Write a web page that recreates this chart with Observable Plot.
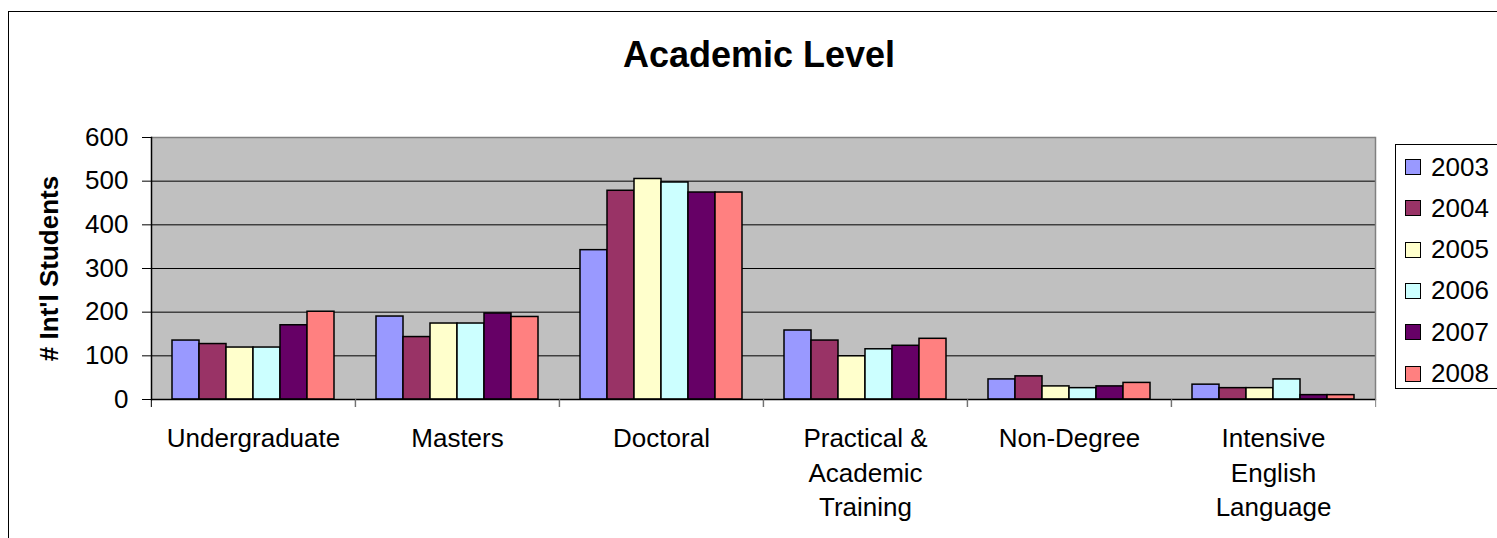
<!DOCTYPE html>
<html>
<head>
<meta charset="utf-8">
<script src="https://cdn.jsdelivr.net/npm/d3@7"></script>
<script src="https://cdn.jsdelivr.net/npm/@observablehq/plot@0.6"></script>
<style>
  body { margin: 0; background: #fff; font-family: Arial, "Liberation Sans", sans-serif; }
  #wrap { position: relative; width: 1497px; height: 538px; overflow: hidden; background: #fff; }
  #border { position: absolute; left: 8px; top: 11px; width: 1600px; height: 700px; border: 1.5px solid #000; box-sizing: border-box; }
  #title { position: absolute; left: 0; top: 37px; width: 1518px; text-align: center; font-size: 36px; line-height: 36px; font-weight: bold; color: #000; }
  #chart { position: absolute; left: 0; top: 0; }
  #legend { position: absolute; left: 1395px; top: 144px; width: 140px; height: 245px; border: 1px solid #000; box-sizing: border-box; background: #fff; }
  .item { position: absolute; left: 9px; height: 30px; display: flex; align-items: center; font-size: 26px; color: #000; }
  .sw { width: 14px; height: 14px; border: 1px solid #000; margin-right: 10px; }
</style>
</head>
<body>
<div id="wrap">
  <div id="border"></div>
  <div id="chart"></div>
  <div id="title"></div>
  <div id="legend"></div>
</div>
<script>
const titleText = "Academic Level";
const yLabel = "# Int'l Students";
const categories = ["Undergraduate", "Masters", "Doctoral", "Practical &\nAcademic\nTraining", "Non-Degree", "Intensive\nEnglish\nLanguage"];
const years = ["2003", "2004", "2005", "2006", "2007", "2008"];
const colors = ["#9999FF", "#993366", "#FFFFCC", "#CCFFFF", "#660066", "#FF8080"];
const yTicks = [0, 100, 200, 300, 400, 500, 600];
const v2003 = [135, 190, 342, 158, 46, 34];
const v2004 = [127, 143, 478, 135, 53, 26];
const v2005 = [119, 174, 505, 99, 30, 26];
const v2006 = [119, 174, 497, 115, 26, 46];
const v2007 = [170, 197, 474, 123, 30, 10];
const v2008 = [201, 189, 474, 139, 38, 10];
const series = [v2003, v2004, v2005, v2006, v2007, v2008];

const data = [];
categories.forEach((c, ci) => years.forEach((y, yi) => data.push({category: c, year: y, value: series[yi][ci]})));

const W = 1497, H = 538, mL = 150, mR = 121, mT = 137, mB = 139;
const step = (W - mL - mR) / categories.length;
const firstCat = () => categories[0];
const lastCat = () => categories[categories.length - 1];

document.getElementById("title").textContent = titleText;

const chart = Plot.plot({
  width: W, height: H,
  marginLeft: mL, marginRight: mR, marginTop: mT, marginBottom: mB,
  style: {fontFamily: "Arial, 'Liberation Sans', sans-serif", fontSize: "26px", background: "transparent", color: "#000", overflow: "visible"},
  fx: {domain: categories, paddingInner: 0, paddingOuter: 0, axis: null, label: null},
  x: {domain: years, paddingInner: 0, paddingOuter: 0.74, axis: null},
  y: {domain: [0, 600], axis: null},
  color: {domain: years, range: colors},
  marks: [
    Plot.frame({fill: "#C0C0C0", stroke: "#C0C0C0", strokeWidth: 1}),
    Plot.gridY(yTicks.slice(1, -1), {stroke: "#000", strokeOpacity: 1, strokeWidth: 1}),
    Plot.ruleY([600], {stroke: "#808080", strokeWidth: 1.5}),
    Plot.frame({anchor: "right", stroke: "#808080", strokeWidth: 1.5, fx: lastCat}),
    Plot.barY(data, {fx: "category", x: "year", y: "value", fill: "year", stroke: "#000", strokeWidth: 1.5, inset: 0}),
    Plot.ruleY([0], {stroke: "#000", strokeWidth: 1.5}),
    Plot.frame({anchor: "left", stroke: "#000", strokeWidth: 1.5, fx: firstCat}),
    Plot.axisY(yTicks, {tickSize: 9, tickPadding: 14, stroke: "#000", label: null}),
    Plot.text([yLabel], {fx: firstCat, frameAnchor: "left", rotate: -90, dx: -102, fontWeight: "bold", fontSize: 26, lineAnchor: "middle", textAnchor: "middle", fill: "#000"}),
    Plot.axisFx({anchor: "bottom", tickSize: 0, tickPadding: 23, lineHeight: 1.33, label: null}),
    Plot.axisFx({anchor: "bottom", tickSize: 8, tickFormat: null, dx: -step / 2, label: null, stroke: "#000"}),
    Plot.axisFx([categories[categories.length - 1]], {anchor: "bottom", tickSize: 8, tickFormat: null, dx: step / 2, label: null, stroke: "#808080"})
  ]
});
document.getElementById("chart").appendChild(chart);

const legend = document.getElementById("legend");
years.forEach((y, i) => {
  const item = document.createElement("div");
  item.className = "item";
  item.style.top = (7 + i * 41.3) + "px";
  const sw = document.createElement("div");
  sw.className = "sw";
  sw.style.background = colors[i];
  const t = document.createElement("span");
  t.textContent = y;
  item.appendChild(sw);
  item.appendChild(t);
  legend.appendChild(item);
});
</script>
</body>
</html>
